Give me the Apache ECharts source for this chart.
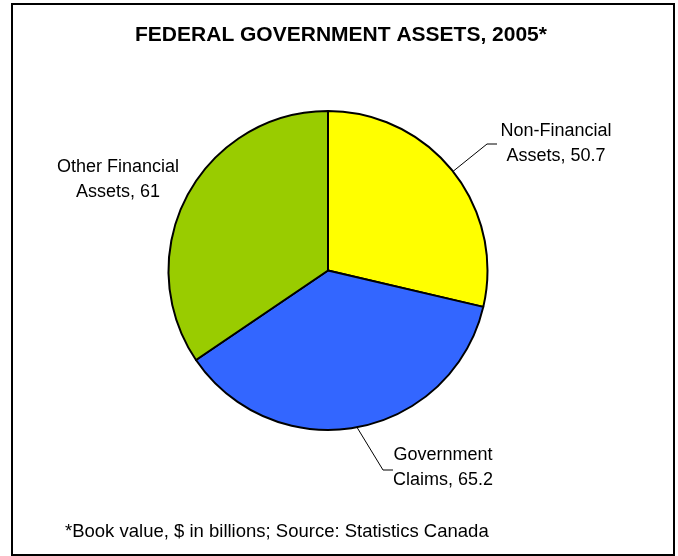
<!DOCTYPE html>
<html>
<head>
<meta charset="utf-8">
<script src="https://cdn.jsdelivr.net/npm/echarts@6/dist/echarts.min.js"></script>
<style>
  html, body { margin: 0; padding: 0; background: #fff; }
  #chart { width: 678px; height: 556px; }
</style>
</head>
<body>
<div id="chart"></div>
<script>
// Federal government assets, 2005 ($ billions, book value)
const categories = ['Non-Financial\nAssets', 'Government\nClaims', 'Other Financial\nAssets'];
const values = [50.7, 65.2, 61];
const colors = ['#FFFF00', '#3366FF', '#99CC00'];
const titleText = 'FEDERAL GOVERNMENT ASSETS, 2005*';
const noteText = '*Book value, $ in billions; Source: Statistics Canada';

// label placement: centre of each label block, plus the elbow of its leader line
const labelPlacement = [
  { at: [556, 144], elbow: [[487, 144], [497, 144]] },
  { at: [443, 468], elbow: [[383, 470], [393, 470]] },
  { at: [118, 180], elbow: null }
];

const font = '"Liberation Sans", Arial, sans-serif';

const chart = echarts.init(document.getElementById('chart'), null, { renderer: 'canvas' });

chart.setOption({
  backgroundColor: '#fff',
  animation: false,
  graphic: [
    {
      type: 'rect',
      shape: { x: 12, y: 4, width: 662, height: 551 },
      style: { fill: 'none', stroke: '#000', lineWidth: 2 },
      z: 10
    },
    {
      type: 'text',
      x: 341, y: 35,
      style: {
        text: titleText,
        fill: '#000',
        font: 'bold 21px ' + font,
        textAlign: 'center',
        textVerticalAlign: 'middle'
      }
    },
    {
      type: 'text',
      x: 65, y: 532,
      style: {
        text: noteText,
        fill: '#000',
        font: '18.5px ' + font,
        textAlign: 'left',
        textVerticalAlign: 'middle'
      }
    }
  ],
  series: [{
    type: 'pie',
    center: [328, 270.5],
    radius: 159.5,
    startAngle: 90,
    clockwise: true,
    avoidLabelOverlap: false,
    itemStyle: { borderColor: '#000', borderWidth: 2 },
    emphasis: { disabled: true },
    label: {
      show: true,
      position: 'outside',
      formatter: p => p.name + ', ' + p.value,
      color: '#000',
      fontFamily: font,
      fontSize: 18,
      lineHeight: 25,
      align: 'center'
    },
    labelLine: {
      show: true,
      length: 40,
      length2: 10,
      smooth: false,
      lineStyle: { color: '#000', width: 1 }
    },
    labelLayout: function (params) {
      const place = labelPlacement[params.dataIndex];
      const out = {
        x: place.at[0],
        y: place.at[1],
        align: 'center',
        verticalAlign: 'middle'
      };
      if (place.elbow && params.labelLinePoints) {
        out.labelLinePoints = [params.labelLinePoints[0]].concat(place.elbow);
      }
      return out;
    },
    data: categories.map((name, i) => ({
      name: name,
      value: values[i],
      itemStyle: { color: colors[i] },
      labelLine: { show: labelPlacement[i].elbow !== null }
    }))
  }]
});
</script>
</body>
</html>
